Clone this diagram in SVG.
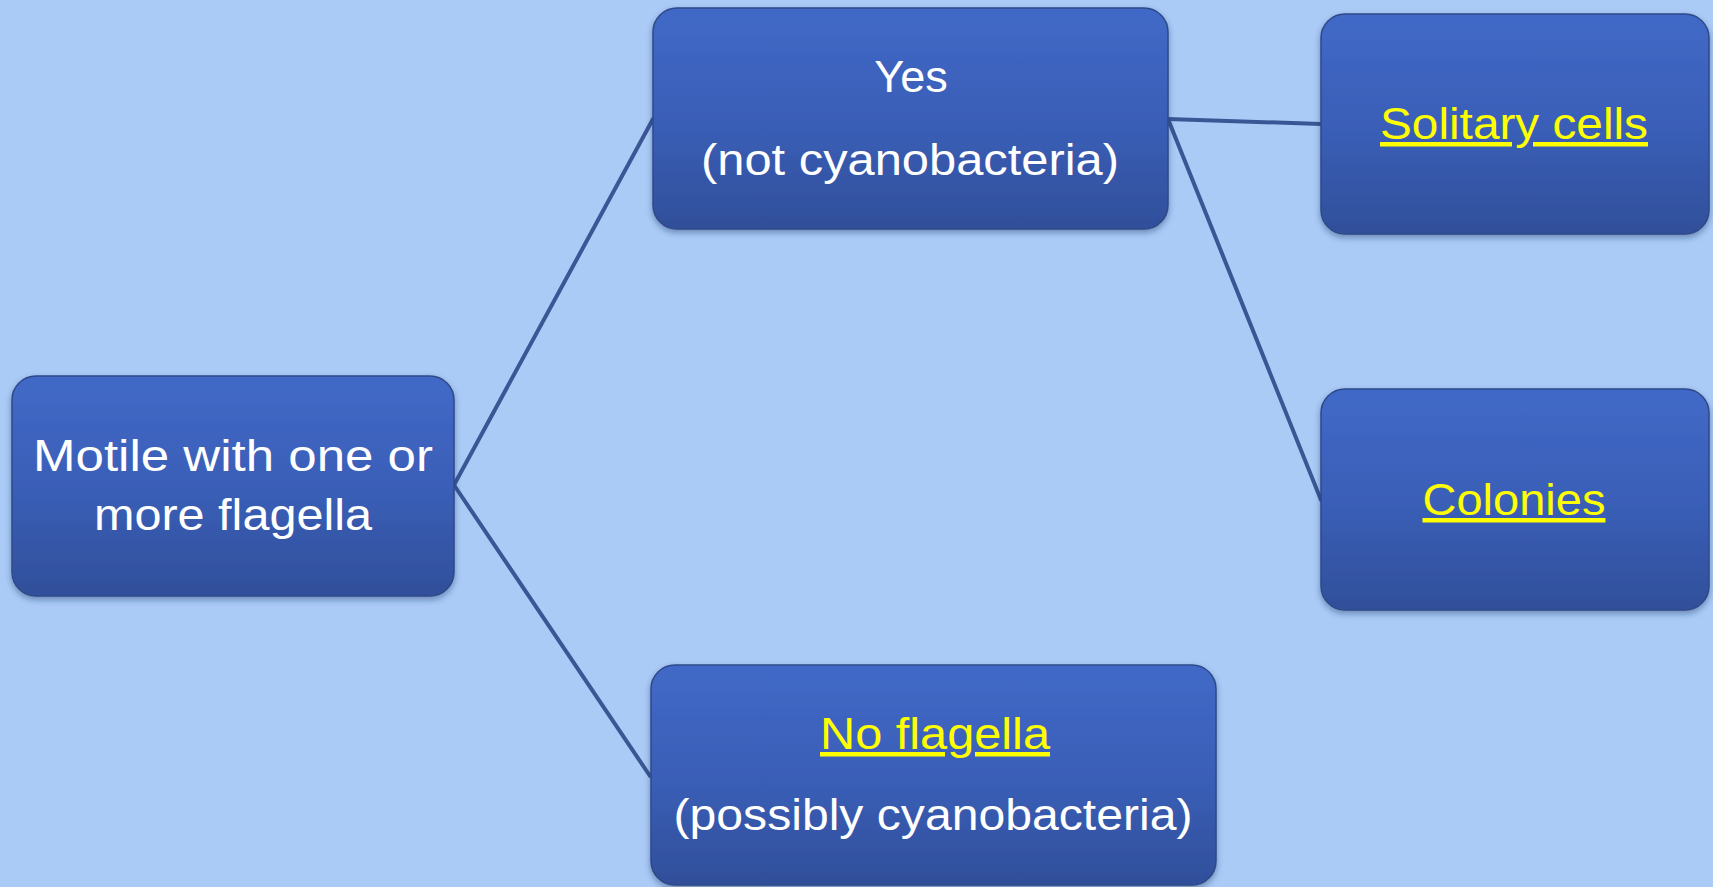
<svg xmlns="http://www.w3.org/2000/svg" width="1713" height="887" viewBox="0 0 1713 887">
<style>
.box{fill:url(#g);stroke:#2f4a8a;stroke-width:1.5;filter:url(#sh)}
.t{font-family:"Liberation Sans",Arial,sans-serif;font-size:45px;fill:#ffffff;text-anchor:middle}
.y{fill:#ffff00;text-decoration:underline}
.c{stroke:#3a5795;stroke-width:4;fill:none;stroke-linecap:round}
</style>
<defs>
<linearGradient id="g" x1="0" y1="0" x2="0" y2="1">
<stop offset="0" stop-color="#4169c7"/>
<stop offset="0.5" stop-color="#3a5fb8"/>
<stop offset="1" stop-color="#314f9a"/>
</linearGradient>
<filter id="sh" x="-5%" y="-5%" width="110%" height="115%">
<feDropShadow dx="0" dy="3" stdDeviation="3" flood-color="#1f3160" flood-opacity="0.45"/>
</filter>
</defs>
<rect width="1713" height="887" fill="#abcbf7"/>
<g id="connectors">
<line class="c" x1="454" y1="485" x2="653" y2="119"/>
<line class="c" x1="454" y1="485" x2="650" y2="776"/>
<line class="c" x1="1168" y1="119" x2="1321" y2="124"/>
<line class="c" x1="1168" y1="119" x2="1321" y2="500"/>
</g>
<g id="node-motile">
<rect class="box" x="12" y="376" width="442" height="220" rx="24"/>
<text class="t" x="233" y="471" textLength="400" lengthAdjust="spacingAndGlyphs">Motile with one or</text>
<text class="t" x="233" y="530" textLength="278" lengthAdjust="spacingAndGlyphs">more flagella</text>
</g>
<g id="node-yes">
<rect class="box" x="653" y="8" width="515" height="221" rx="24"/>
<text class="t" x="911" y="92">Yes</text>
<text class="t" x="910" y="175" textLength="418" lengthAdjust="spacingAndGlyphs">(not cyanobacteria)</text>
</g>
<g id="node-solitary">
<rect class="box" x="1321" y="14" width="388" height="220" rx="24"/>
<text class="t y" x="1514" y="139" textLength="268" lengthAdjust="spacingAndGlyphs">Solitary cells</text>
</g>
<g id="node-colonies">
<rect class="box" x="1321" y="389" width="388" height="221" rx="24"/>
<text class="t y" x="1514" y="515" textLength="183" lengthAdjust="spacingAndGlyphs">Colonies</text>
</g>
<g id="node-noflagella">
<rect class="box" x="651" y="665" width="565" height="220" rx="24"/>
<text class="t y" x="935" y="749" textLength="230" lengthAdjust="spacingAndGlyphs">No flagella</text>
<text class="t" x="933" y="830" textLength="519" lengthAdjust="spacingAndGlyphs">(possibly cyanobacteria)</text>
</g>
</svg>
